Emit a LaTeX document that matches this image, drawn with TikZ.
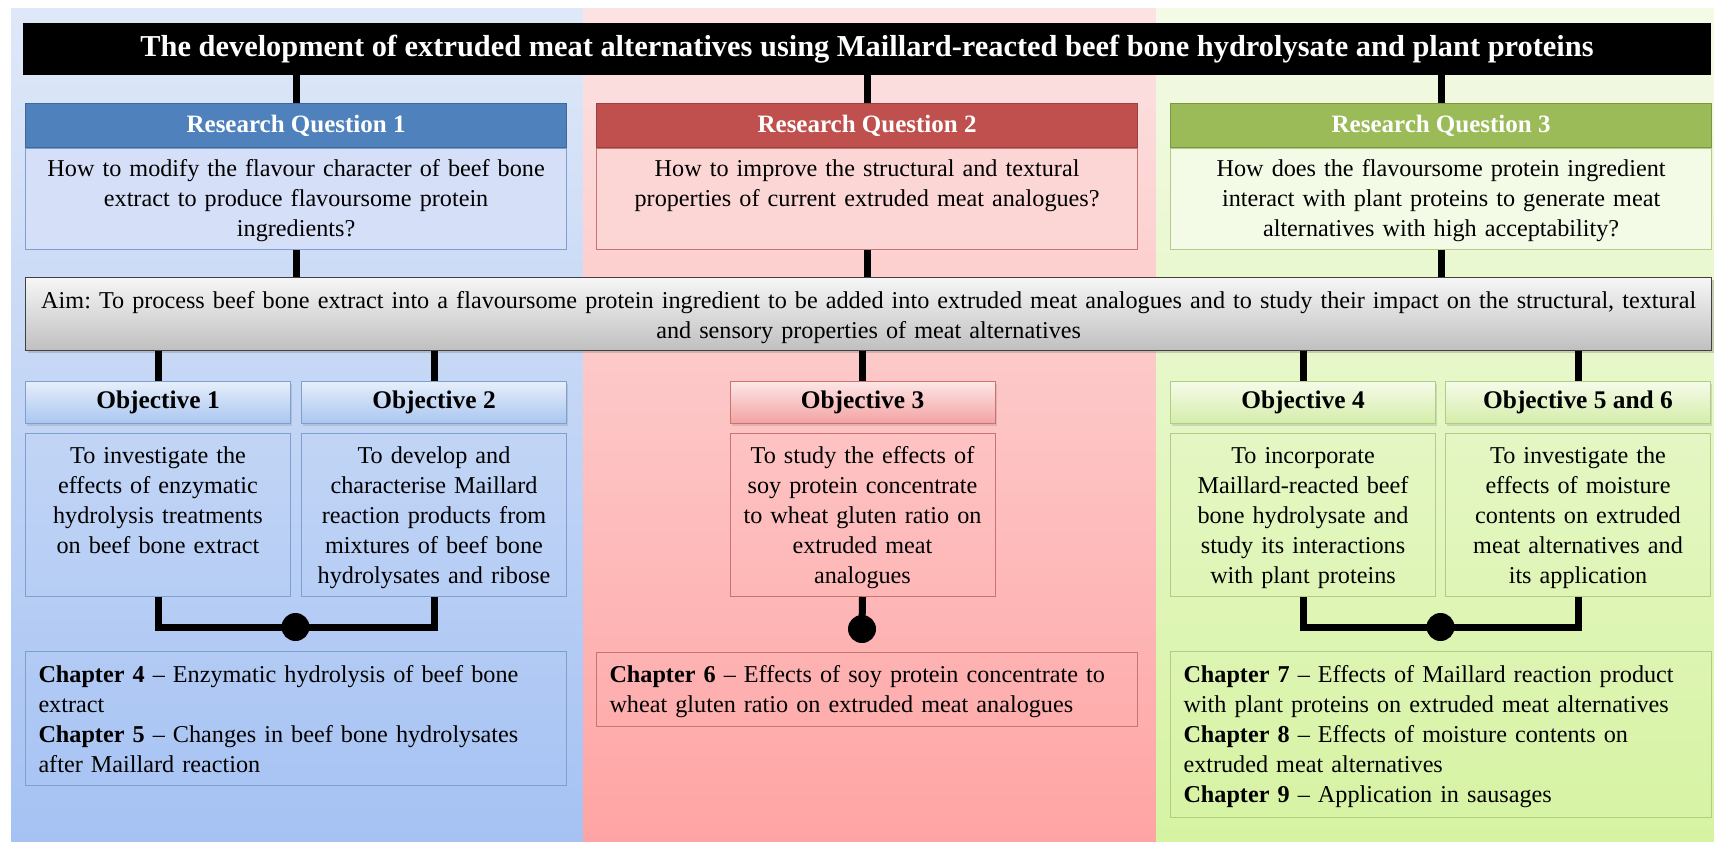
\documentclass[tikz,border=0pt]{standalone}
\usepackage{fontspec}
\setmainfont{Liberation Serif}
\usetikzlibrary{positioning, shadows}
\frenchspacing

\definecolor{rqblue}{HTML}{4F81BD}
\definecolor{rqred}{HTML}{C0504D}
\definecolor{rqgreen}{HTML}{9BBB59}
\definecolor{lineblue}{HTML}{7E9FCF}
\definecolor{linered}{HTML}{C87272}
\definecolor{linegreen}{HTML}{B2CB86}
\definecolor{panelbluetop}{HTML}{DFE8F8}
\definecolor{panelbluebot}{HTML}{A5C2F3}
\definecolor{panelredtop}{HTML}{FCE3E3}
\definecolor{panelredbot}{HTML}{FFA4A4}
\definecolor{panelgreentop}{HTML}{F3FAE6}
\definecolor{panelgreenbot}{HTML}{D6F3A2}
\definecolor{objbluetop}{HTML}{E6EEFB}
\definecolor{objbluebot}{HTML}{A9C6F0}
\definecolor{objredtop}{HTML}{FDE6E6}
\definecolor{objredbot}{HTML}{F3A2A2}
\definecolor{objgreentop}{HTML}{F6FBEA}
\definecolor{objgreenbot}{HTML}{D4EDA9}

\newcommand{\bodysize}{\fontsize{24.2}{30}\selectfont}

\tikzset{
    titlebar/.style={rectangle, fill=black, text=white, minimum width=1688pt, minimum height=52pt, inner sep=0pt, font=\fontsize{30.4}{34}\selectfont\bfseries},
    rqhead/.style={rectangle, draw=#1!80!black, fill=#1, line width=1.2pt, minimum width=541pt, minimum height=44pt, inner sep=0pt, text=white, font=\fontsize{25}{28}\selectfont\bfseries},
    rqbody/.style={rectangle, line width=1pt, text width=529pt, inner xsep=6pt, inner ysep=0pt, align=center, text height=28pt, text depth=73pt, font=\bodysize},
    aimbox/.style={rectangle, draw=black!75, line width=1.3pt, top color=gray!7, bottom color=gray!50, text width=1678pt, inner xsep=4pt, inner ysep=0pt, align=center, text height=31pt, text depth=42pt, font=\bodysize, drop shadow={shadow xshift=2pt, shadow yshift=-2.5pt, opacity=0.35}},
    objhead/.style={rectangle, line width=1pt, minimum width=265pt, minimum height=42pt, inner sep=0pt, font=\fontsize{25.4}{28}\selectfont\bfseries, drop shadow={shadow xshift=1.5pt, shadow yshift=-2pt, opacity=0.25}},
    objbody/.style={rectangle, line width=1pt, text width=255pt, inner xsep=5pt, inner ysep=0pt, align=center, text height=30pt, text depth=133pt, font=\bodysize},
    chapbox/.style={rectangle, line width=1pt, text width=515pt, inner xsep=13pt, inner ysep=0pt, align=left, text height=31pt, font=\bodysize},
    link/.style={line width=7pt},
    joint/.style={circle, fill=black, minimum size=28pt, inner sep=0pt},
}

\begin{document}
\begin{tikzpicture}[x=1pt, y=-1pt]
        \useasboundingbox (0,0) rectangle (1714,841);
        \fill[white] (0,0) rectangle (1714,841);

        % Panels
        \shade[top color=panelbluetop, bottom color=panelbluebot] (11,8) rectangle (583,841);
        \shade[top color=panelredtop, bottom color=panelredbot] (583,8) rectangle (1156,841);
        \shade[top color=panelgreentop, bottom color=panelgreenbot] (1156,8) rectangle (1714,841);

        % Title
        \node[titlebar] (title) at (867,49) {The development of extruded meat alternatives using Maillard-reacted beef bone hydrolysate and plant proteins};

        % Research questions
        \node[rqhead=rqblue, anchor=north west] (rq1h) at (25,103) {Research Question 1};
        \node[rqhead=rqred, anchor=north west] (rq2h) at (596,103) {Research Question 2};
        \node[rqhead=rqgreen, anchor=north west] (rq3h) at (1170,103) {Research Question 3};
        \node[rqbody, below=0pt of rq1h, draw=lineblue, fill=blue!4!panelbluetop] (rq1) {How to modify the flavour character of beef bone\\ extract to produce flavoursome protein\\ ingredients?};
        \node[rqbody, below=0pt of rq2h, draw=linered, fill=red!6!panelredtop] (rq2) {How to improve the structural and textural\\ properties of current extruded meat analogues?};
        \node[rqbody, below=0pt of rq3h, draw=linegreen, fill=panelgreentop] (rq3) {How does the flavoursome protein ingredient\\ interact with plant proteins to generate meat\\ alternatives with high acceptability?};

        % Aim
        \node[aimbox, anchor=north west] (aim) at (25,277) {Aim: To process beef bone extract into a flavoursome protein ingredient to be added into extruded meat analogues and to study their impact on the structural, textural\\ and sensory properties of meat alternatives};

        % Objectives
        \node[objhead, anchor=north west, draw=lineblue, top color=objbluetop, bottom color=objbluebot] (obj1h) at (25,381) {Objective 1};
        \node[objhead, anchor=north west, draw=lineblue, top color=objbluetop, bottom color=objbluebot] (obj2h) at (301,381) {Objective 2};
        \node[objhead, anchor=north west, draw=linered, top color=objredtop, bottom color=objredbot] (obj3h) at (729.5,381) {Objective 3};
        \node[objhead, anchor=north west, draw=linegreen, top color=objgreentop, bottom color=objgreenbot] (obj4h) at (1170,381) {Objective 4};
        \node[objhead, anchor=north west, draw=linegreen, top color=objgreentop, bottom color=objgreenbot] (obj56h) at (1445,381) {Objective 5 and 6};

        \node[objbody, below=9pt of obj1h, draw=lineblue] (obj1) {To investigate the\\ effects of enzymatic\\ hydrolysis treatments\\ on beef bone extract};
        \node[objbody, below=9pt of obj2h, draw=lineblue] (obj2) {To develop and\\ characterise Maillard\\ reaction products from\\ mixtures of beef bone\\ hydrolysates and ribose};
        \node[objbody, below=9pt of obj3h, draw=linered] (obj3) {To study the effects of\\ soy protein concentrate\\ to wheat gluten ratio on\\ extruded meat\\ analogues};
        \node[objbody, below=9pt of obj4h, draw=linegreen] (obj4) {To incorporate\\ Maillard-reacted beef\\ bone hydrolysate and\\ study its interactions\\ with plant proteins};
        \node[objbody, below=9pt of obj56h, draw=linegreen] (obj56) {To investigate the\\ effects of moisture\\ contents on extruded\\ meat alternatives and\\ its application};

        % Chapters
        \node[chapbox, anchor=north west, draw=lineblue, text depth=103pt] (chap45) at (25,651) {\textbf{Chapter 4} – Enzymatic hydrolysis of beef bone\\ extract\\ \textbf{Chapter 5} – Changes in beef bone hydrolysates\\ after Maillard reaction};
        \node[chapbox, anchor=north west, draw=linered, text height=30pt, text depth=44pt] (chap6) at (596,652) {\textbf{Chapter 6} – Effects of soy protein concentrate to\\ wheat gluten ratio on extruded meat analogues};
        \node[chapbox, anchor=north west, draw=linegreen, text depth=135pt] (chap789) at (1170,651) {\textbf{Chapter 7} – Effects of Maillard reaction product\\ with plant proteins on extruded meat alternatives\\ \textbf{Chapter 8} – Effects of moisture contents on\\ extruded meat alternatives\\ \textbf{Chapter 9} – Application in sausages};

        % Joints
        \node[joint] (bluedot) at (295.5,627) {};
        \node[joint] (reddot) at (862,629) {};
        \node[joint] (greendot) at (1440.5,627) {};

        % Links
        \draw[link] (title.south -| rq1h.north) -- (rq1h.north);
        \draw[link] (title.south -| rq2h.north) -- (rq2h.north);
        \draw[link] (title.south -| rq3h.north) -- (rq3h.north);
        \draw[link] (rq1.south) -- (aim.north -| rq1.south);
        \draw[link] (rq2.south) -- (aim.north -| rq2.south);
        \draw[link] (rq3.south) -- (aim.north -| rq3.south);
        \draw[link] (aim.south -| obj1h.north) -- (obj1h.north);
        \draw[link] (aim.south -| obj2h.north) -- (obj2h.north);
        \draw[link] (aim.south -| obj3h.north) -- (obj3h.north);
        \draw[link] (aim.south -| obj4h.north) -- (obj4h.north);
        \draw[link] (aim.south -| obj56h.north) -- (obj56h.north);
        \draw[link] (obj1.south) |- (bluedot.center) -| (obj2.south);
        \draw[link] (obj3.south) -- (reddot.center);
        \draw[link] (obj4.south) |- (greendot.center) -| (obj56.south);
\end{tikzpicture}
\end{document}
